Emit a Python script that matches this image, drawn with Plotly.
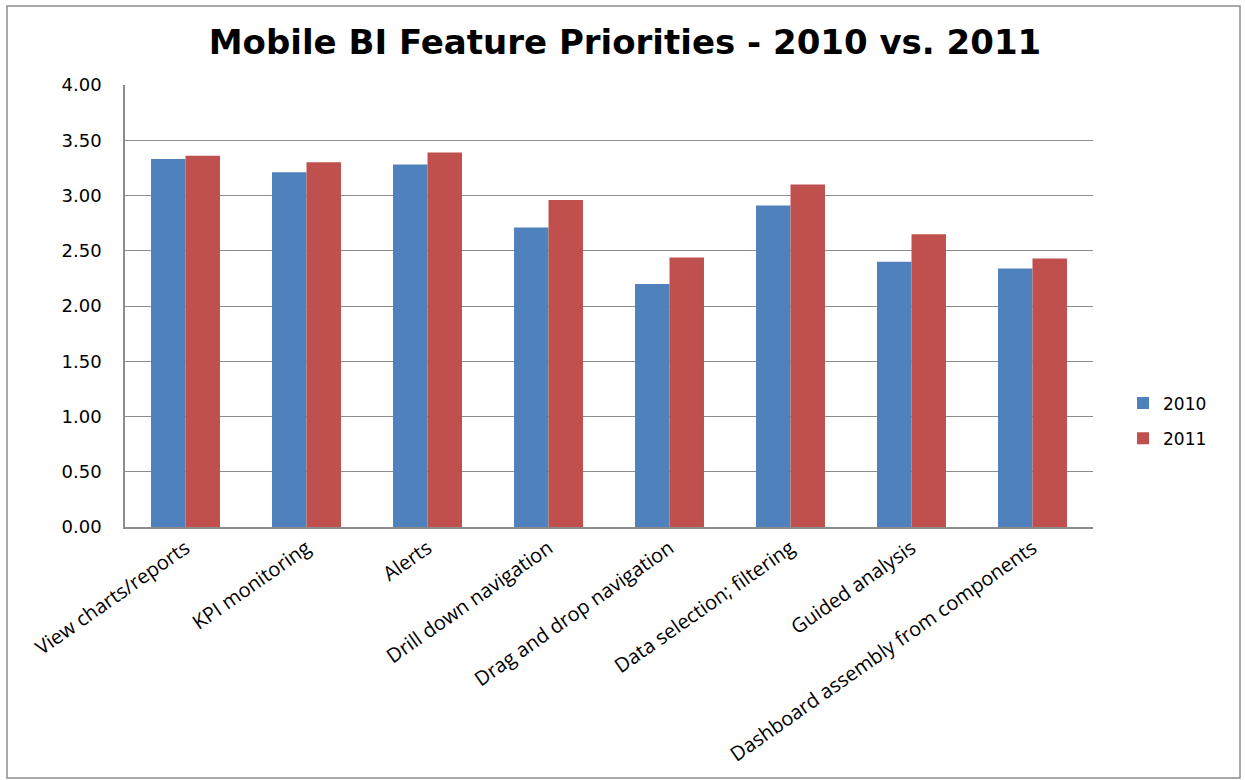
import plotly.graph_objects as go

# Survey results: average priority score per mobile BI feature
features = [
    "View charts/reports",
    "KPI monitoring",
    "Alerts",
    "Drill down navigation",
    "Drag and drop navigation",
    "Data selection; filtering",
    "Guided analysis",
    "Dashboard assembly from components",
]
scores_2010 = [3.33, 3.21, 3.28, 2.71, 2.20, 2.91, 2.40, 2.34]
scores_2011 = [3.36, 3.30, 3.39, 2.96, 2.44, 3.10, 2.65, 2.43]
y_ticks = [0, 0.5, 1.0, 1.5, 2.0, 2.5, 3.0, 3.5, 4.0]

W, H = 1245, 780
ML, MR, MT, MB = 125, 152, 85, 253
PW, PH = W - ML - MR, H - MT - MB

fig = go.Figure()
fig.add_trace(go.Bar(name="2010", x=features, y=scores_2010, legendgroup="y2010",
                     marker=dict(color="#4F81BD", line=dict(width=0))))
fig.add_trace(go.Bar(name="2011", x=features, y=scores_2011, legendgroup="y2011",
                     marker=dict(color="#C0504D", line=dict(width=0))))


def px_x(x):
    return (x - ML) / PW


def px_y(y):
    return (H - MB - y) / PH


# outer chart frame
fig.add_shape(type="rect", xref="paper", yref="paper",
              x0=px_x(7), x1=px_x(1240), y0=px_y(778), y1=px_y(6),
              line=dict(color="#8c8c8c", width=1.5), layer="below")

fig.update_layout(
    width=W, height=H,
    margin=dict(l=ML, r=MR, t=MT, b=MB),
    paper_bgcolor="white", plot_bgcolor="white",
    barmode="group", bargap=0.43, bargroupgap=0,
    title=dict(text="<b>Mobile BI Feature Priorities - 2010 vs. 2011</b>",
               x=625 / W, xref="container", xanchor="center",
               y=1 - 42 / H, yref="container", yanchor="middle",
               font=dict(family="DejaVu Sans", size=34, color="#000000")),
    legend=dict(x=px_x(1123), xanchor="left", y=px_y(421), yanchor="middle",
                xref="paper", yref="paper",
                font=dict(family="DejaVu Sans", size=17, color="#000000"),
                itemwidth=30, tracegroupgap=10, bgcolor="rgba(0,0,0,0)"),
    font=dict(family="DejaVu Sans", color="#000000"),
)

fig.update_yaxes(range=[0, 4], tickvals=y_ticks, tickformat=".2f",
                 showgrid=True, gridcolor="#8c8c8c", gridwidth=1,
                 showline=True, linecolor="#8c8c8c", linewidth=1.5,
                 ticks="", ticklen=0, ticklabelstandoff=18,
                 tickfont=dict(family="DejaVu Sans", size=18, color="#000000"),
                 zeroline=False)
fig.update_xaxes(showline=True, linecolor="#8c8c8c", linewidth=1.5,
                 tickangle=-35, ticks="",
                 tickfont=dict(family="Open Sans", size=20, color="#000000"))

fig.write_html("out.html")
